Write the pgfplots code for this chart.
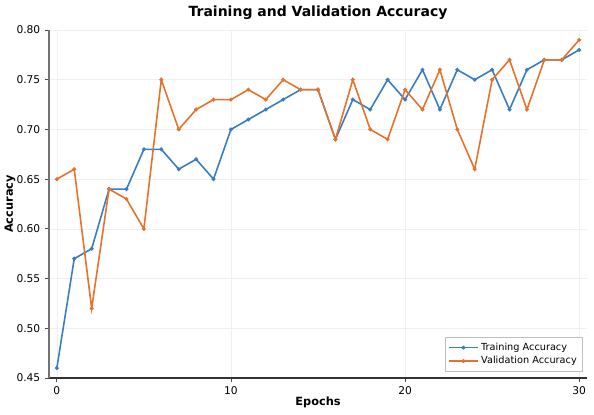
\documentclass[border=0pt]{standalone}
\usepackage{pgfplots}
\pgfplotsset{compat=1.18}
\usepackage{fontspec}
\setmainfont{DejaVu Sans}
\definecolor{tblue}{HTML}{3A7EC2}
\definecolor{torange}{HTML}{E8722A}
\begin{document}
\begin{tikzpicture}
\begin{axis}[
  scale only axis,
  width=403.5pt, height=261pt,
  xmin=-0.45, xmax=30.45,
  ymin=0.45, ymax=0.80,
  xtick={0,10,20,30},
  ytick={0.45,0.50,0.55,0.60,0.65,0.70,0.75,0.80},
  yticklabel style={/pgf/number format/.cd,fixed,fixed zerofill,precision=2},
  /pgf/number format/assume math mode=true,
  tick label style={font=\fontsize{8}{9}\selectfont},
  axis x line*=bottom, axis y line*=left,
  x axis line style={-, black!80, line width=0.8pt},
  y axis line style={-, black!55, line width=1.0pt},
  tick align=outside, major tick length=3pt,
  tick style={black!70, line width=0.6pt},
  grid=major,
  major grid style={black!6, line width=0.4pt},
  xlabel={\textbf{Epochs}}, ylabel={\textbf{Accuracy}},
  label style={font=\fontsize{8.5}{10}\selectfont},
  xlabel style={yshift=5pt},
  ylabel style={yshift=-6pt},
  title={\textbf{Training and Validation Accuracy}},
  title style={font=\fontsize{10.5}{12}\selectfont, yshift=-2pt},
  legend style={at={(rel axis cs:1,0)}, anchor=south east, xshift=-3pt, yshift=4.5pt,
    font=\fontsize{7.3}{8.5}\selectfont, draw=black!25, fill=white, row sep=-1pt,
    inner sep=2.5pt},
  legend image post style={xscale=1.25},
  legend cell align=left,
]
\addplot[tblue, line width=1.2pt, mark=*, mark size=0.8pt] coordinates {
(0,0.46)(1,0.57)(2,0.58)(3,0.64)(4,0.64)(5,0.68)(6,0.68)(7,0.66)(8,0.67)(9,0.65)
(10,0.70)(11,0.71)(12,0.72)(13,0.73)(14,0.74)(15,0.74)(16,0.69)(17,0.73)(18,0.72)(19,0.75)
(20,0.73)(21,0.76)(22,0.72)(23,0.76)(24,0.75)(25,0.76)(26,0.72)(27,0.76)(28,0.77)(29,0.77)(30,0.78)};
\addlegendentry{Training Accuracy}
\addplot[torange, line width=1.2pt, mark=*, mark size=0.8pt] coordinates {
(0,0.65)(1,0.66)(2,0.52)(3,0.64)(4,0.63)(5,0.60)(6,0.75)(7,0.70)(8,0.72)(9,0.73)
(10,0.73)(11,0.74)(12,0.73)(13,0.75)(14,0.74)(15,0.74)(16,0.69)(17,0.75)(18,0.70)(19,0.69)
(20,0.74)(21,0.72)(22,0.76)(23,0.70)(24,0.66)(25,0.75)(26,0.77)(27,0.72)(28,0.77)(29,0.77)(30,0.79)};
\addlegendentry{Validation Accuracy}
\end{axis}
\pgfresetboundingbox
\path ([shift={(-36.75pt,-27pt)}]current axis.south west) rectangle ([shift={(5.25pt,22.5pt)}]current axis.north east);
\end{tikzpicture}
\end{document}
